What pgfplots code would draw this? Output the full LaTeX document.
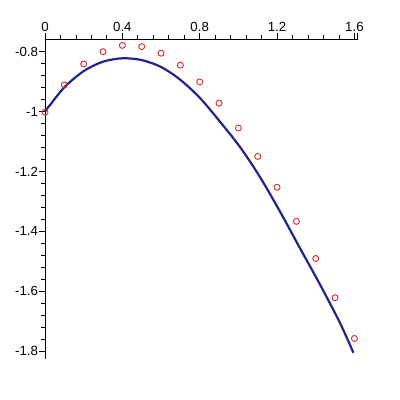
\documentclass[border=0pt]{standalone}
\usepackage{fontspec}
\setmainfont{Liberation Sans}
\usepackage{pgfplots}
\pgfplotsset{compat=1.18}
\definecolor{curveblue}{RGB}{36,36,140}
\definecolor{ptred}{RGB}{214,40,40}
\begin{document}
\begin{tikzpicture}
\path[use as bounding box] (-45bp,-41.3bp) rectangle (355bp,358.7bp);
\begin{axis}[
  at={(0,0)}, anchor=south west,
  scale only axis,
  width=312.7bp, height=319.7bp,
  xmin=0, xmax=1.617,
  ymin=-1.8257, ymax=-0.7576,
  axis x line=top, axis y line=left,
  axis line style={-, line width=0.8bp},
  xtick={0,0.4,0.8,1.2,1.6},
  extra x ticks={1.617}, extra x tick labels={},
  ytick={-1.8,-1.6,-1.4,-1.2,-1,-0.8},
  minor tick num=4,
  tick align=outside,
  major tick length=5.5bp, minor tick length=4bp,
  tick style={black, line width=0.8bp},
  /pgf/number format/assume math mode=true,
  ticklabel style={font=\fontsize{13.3}{15}\selectfont},
  xticklabel style={yshift=-2bp},
  yticklabel style={xshift=2bp},
  clip=false,
]
\addplot[curveblue, line width=2.2bp, smooth] coordinates {
(0,-1.000) (0.026,-0.978) (0.103,-0.917) (0.202,-0.864) (0.302,-0.833)
(0.402,-0.822) (0.500,-0.828) (0.600,-0.851) (0.698,-0.893) (0.802,-0.955)
(0.905,-1.034) (1.009,-1.119) (1.112,-1.219) (1.216,-1.335) (1.319,-1.457)
(1.423,-1.579) (1.526,-1.707) (1.595,-1.806)
};
\addplot[only marks, mark=o, mark size=3bp, ptred, mark options={line width=0.9bp}] coordinates {
(0,-1.002) (0.1,-0.911) (0.2,-0.841) (0.3,-0.800) (0.4,-0.779) (0.5,-0.783)
(0.6,-0.805) (0.7,-0.845) (0.8,-0.901) (0.9,-0.972) (1.0,-1.055) (1.1,-1.150)
(1.2,-1.253) (1.3,-1.367) (1.4,-1.491) (1.5,-1.622) (1.6,-1.758)
};
\end{axis}
\end{tikzpicture}
\end{document}
